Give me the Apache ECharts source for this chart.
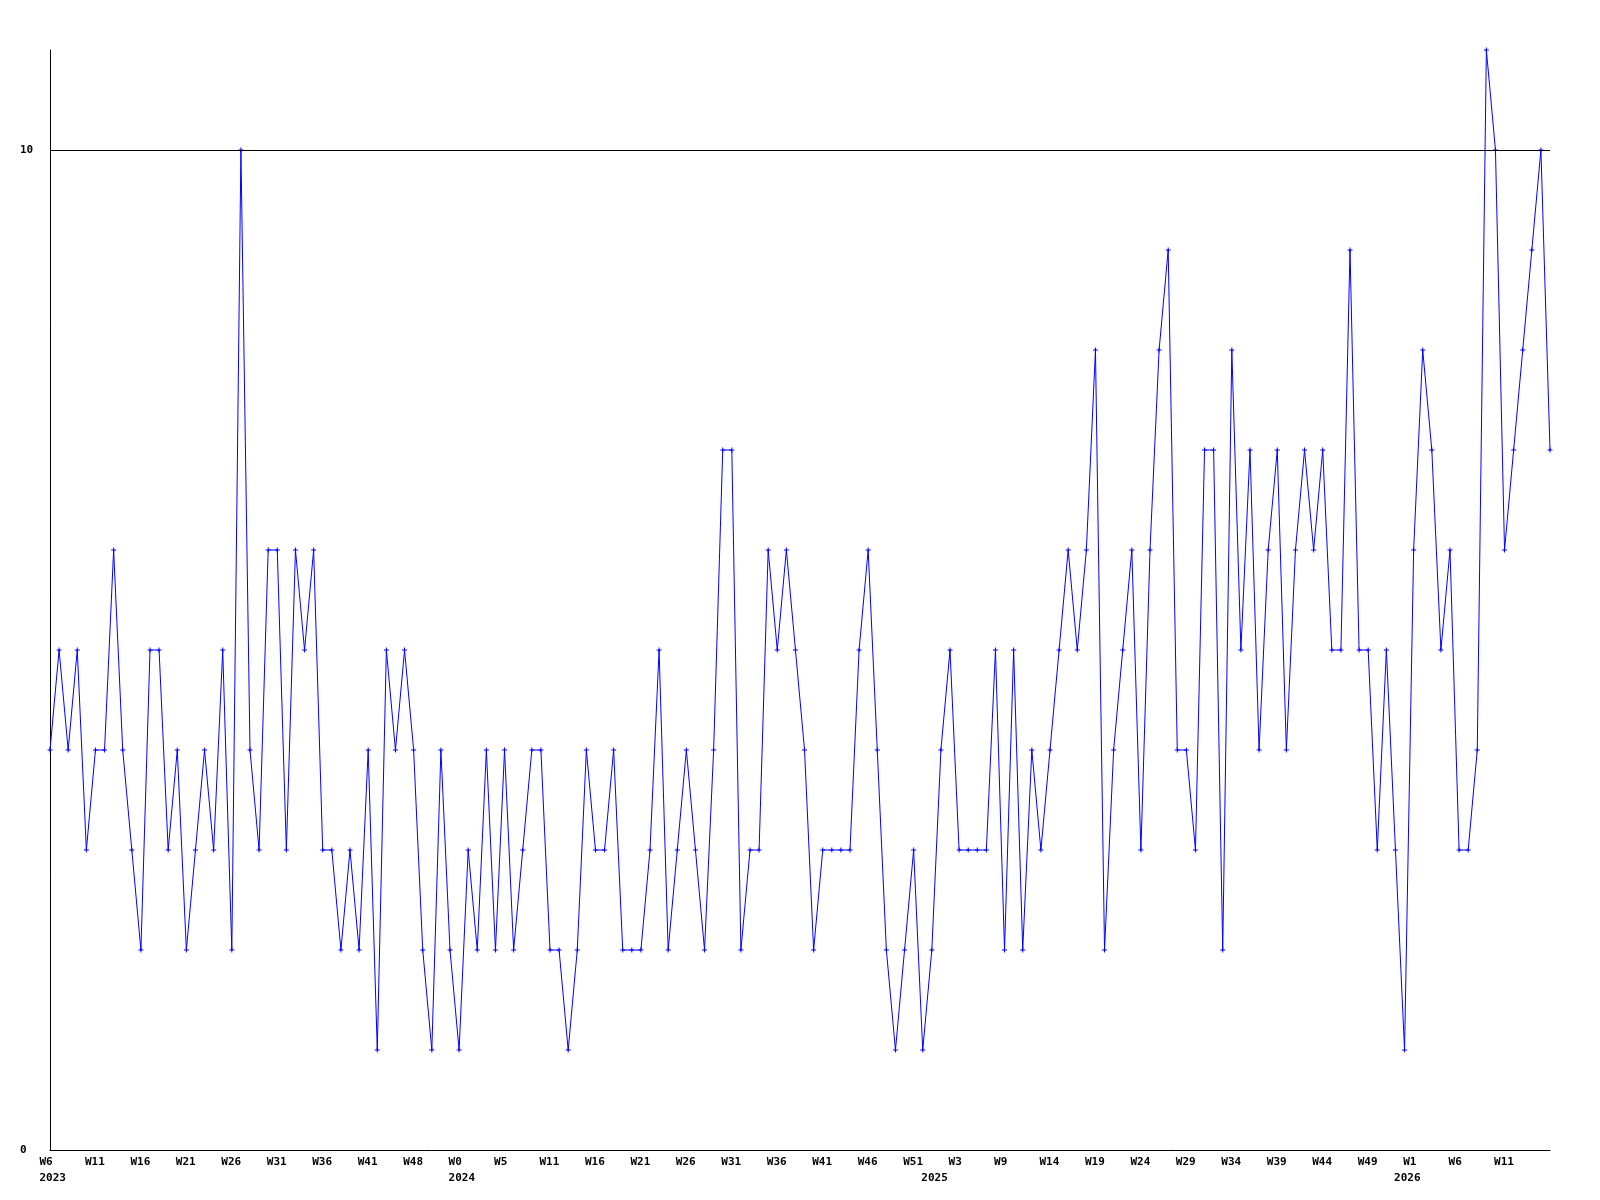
<!DOCTYPE html>
<html>
<head>
<meta charset="utf-8">
<script src="https://cdn.jsdelivr.net/npm/echarts@6/dist/echarts.min.js"></script>
<style>
html,body{margin:0;padding:0;background:#fff;}
#chart{width:1600px;height:1200px;}
</style>
</head>
<body>
<div id="chart"></div>
<script>
// Weekly values (one per week, in order)
const values = [
  4,5,4,5,3,4,4,6,4,3,
  2,5,5,3,4,2,3,4,3,5,
  2,10,4,3,6,6,3,6,5,6,
  3,3,2,3,2,4,1,5,4,5,
  4,2,1,4,2,1,3,2,4,2,
  4,2,3,4,4,2,2,1,2,4,
  3,3,4,2,2,2,3,5,2,3,
  4,3,2,4,7,7,2,3,3,6,
  5,6,5,4,2,3,3,3,3,5,
  6,4,2,1,2,3,1,2,4,5,
  3,3,3,3,5,2,5,2,4,3,
  4,5,6,5,6,8,2,4,5,6,
  3,6,8,9,4,4,3,7,7,2,
  8,5,7,4,6,7,4,6,7,6,
  7,5,5,9,5,5,3,5,3,1,
  6,8,7,5,6,3,3,4,11,10,
  6,7,8,9,10,7
];
// Week tick labels, one every 5 points
const weekLabels = ['W6','W11','W16','W21','W26','W31','W36','W41','W48','W0','W5','W11','W16','W21','W26','W31','W36','W41','W46','W51','W3','W9','W14','W19','W24','W29','W34','W39','W44','W49','W1','W6','W11'];
const weekStep = 5;
// Year labels and the point index they sit under
const yearLabels = ['2023','2024','2025','2026'];
const yearIndex = [0,45,97,149];
const yTickLabels = [0,10];
const refLine = 10;

const n = values.length;
const seriesData = values.map((v,i)=>[i,v]);
const font = {fontFamily:'DejaVu Sans Mono', fontWeight:'bold', fontSize:11, color:'#000'};

const chart = echarts.init(document.getElementById('chart'), null, {renderer:'canvas'});
chart.setOption({
  animation:false,
  backgroundColor:'#fff',
  grid:[
    {left:50, right:50, top:50, bottom:50, containLabel:false},
    {left:39.5, right:60.5, top:50, bottom:50, containLabel:false}
  ],
  xAxis:[
    {type:'value', gridIndex:0, min:0, max:n-1,
     axisLine:{show:true, onZero:false, lineStyle:{color:'#000', width:1}},
     axisTick:{show:false}, axisLabel:{show:false}, splitLine:{show:false}},
    {type:'value', gridIndex:1, min:0, max:n-1, interval:weekStep,
     axisLine:{show:false}, axisTick:{show:false}, splitLine:{show:false},
     axisLabel:Object.assign({show:true, align:'left', margin:7, showMinLabel:true, showMaxLabel:true,
       formatter:(v)=>{const k=Math.round(v/weekStep); return (Math.abs(v-k*weekStep)<1e-6 && weekLabels[k]!==undefined)?weekLabels[k]:'';}}, font)},
    {type:'value', gridIndex:1, min:0, max:n-1, position:'bottom', offset:17,
     axisLine:{show:false}, axisTick:{show:false}, splitLine:{show:false},
     axisLabel:Object.assign({show:true, align:'left', margin:6, customValues:yearIndex,
       formatter:(v)=>{const k=yearIndex.indexOf(Math.round(v)); return k>=0?yearLabels[k]:'';}}, font)}
  ],
  yAxis:[
    {type:'value', gridIndex:0, min:0, max:11, interval:10,
     axisLine:{show:true, onZero:false, lineStyle:{color:'#000', width:1}},
     axisTick:{show:false}, splitLine:{show:false},
     axisLabel:Object.assign({show:true, align:'left', margin:30, verticalAlign:'middle',
       formatter:(v)=> yTickLabels.indexOf(v)>=0 ? String(v) : ''}, font)},
    {type:'value', gridIndex:1, min:0, max:11, show:false}
  ],
  series:[{
    type:'line',
    xAxisIndex:0, yAxisIndex:0,
    data:seriesData,
    symbol:'path://M2,0H3V2H5V3H3V5H2V3H0V2H2Z',
    symbolSize:5,
    showSymbol:true,
    itemStyle:{color:'#0000ff'},
    lineStyle:{color:'#0000ff', width:1},
    emphasis:{disabled:true},
    markLine:{
      silent:true, symbol:['none','none'], animation:false,
      label:{show:false},
      lineStyle:{color:'#000', width:1, type:'solid'},
      emphasis:{disabled:true},
      data:[{yAxis:refLine}]
    }
  }]
});
</script>
</body>
</html>
